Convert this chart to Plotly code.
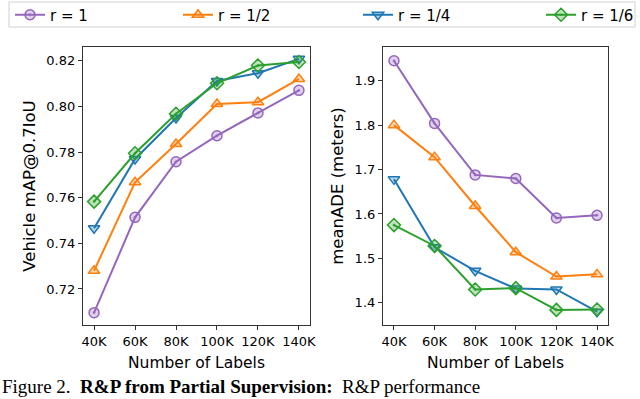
import plotly.graph_objects as go
from plotly.subplots import make_subplots

labels = [40, 60, 80, 100, 120, 140]
tick_text = ["40K", "60K", "80K", "100K", "120K", "140K"]
series_names = ["r = 1", "r = 1/2", "r = 1/4", "r = 1/6"]

map_r1 = [0.7096, 0.7514, 0.7758, 0.7872, 0.7972, 0.8071]
map_r2 = [0.7280, 0.7668, 0.7836, 0.8011, 0.8019, 0.8121]
map_r4 = [0.7466, 0.7770, 0.7950, 0.8112, 0.8146, 0.8209]
map_r6 = [0.7583, 0.7795, 0.7968, 0.8102, 0.8180, 0.8195]

ade_r1 = [1.945, 1.804, 1.688, 1.680, 1.591, 1.597]
ade_r2 = [1.800, 1.728, 1.618, 1.514, 1.459, 1.464]
ade_r4 = [1.678, 1.525, 1.472, 1.432, 1.430, 1.380]
ade_r6 = [1.575, 1.528, 1.430, 1.433, 1.384, 1.385]

colors = ["#9467bd", "#ff7f0e", "#1f77b4", "#2ca02c"]
fills = ["rgba(148,103,189,0.3)", "rgba(255,127,14,0.3)",
         "rgba(31,119,180,0.3)", "rgba(44,160,44,0.3)"]
symbols = ["circle-dot", "triangle-up", "triangle-down", "diamond-dot"]

fig = make_subplots(rows=1, cols=2)

for i, (m, a) in enumerate(zip([map_r1, map_r2, map_r4, map_r6],
                               [ade_r1, ade_r2, ade_r4, ade_r6])):
    leg = "legend" if i == 0 else f"legend{i + 1}"
    marker = dict(symbol=symbols[i], size=10, color=fills[i],
                  line=dict(color=colors[i], width=1.5))
    fig.add_trace(go.Scatter(x=labels, y=m, mode="lines+markers",
                             name=series_names[i], legend=leg,
                             line=dict(color=colors[i], width=2),
                             marker=marker), row=1, col=1)
    fig.add_trace(go.Scatter(x=labels, y=a, mode="lines+markers",
                             name=series_names[i], showlegend=False,
                             line=dict(color=colors[i], width=2),
                             marker=marker), row=1, col=2)

axis_style = dict(showgrid=False, zeroline=False, showline=True, mirror=True,
                  linecolor="#333", linewidth=1.2, ticks="outside", ticklen=4,
                  tickcolor="#333", tickfont=dict(size=13, color="black"))

fig.update_xaxes(**axis_style, tickvals=labels, ticktext=tick_text,
                 range=[34.6, 145.4],
                 title=dict(text="Number of Labels", font=dict(size=15.5), standoff=9))
fig.update_xaxes(domain=[83 / 640, 310 / 640], row=1, col=1)
fig.update_xaxes(domain=[383 / 640, 608 / 640], row=1, col=2)
fig.update_yaxes(**axis_style)
fig.update_yaxes(domain=[1 - 325 / 399, 1 - 47 / 399])
fig.update_yaxes(row=1, col=1, range=[0.7042, 0.8261], dtick=0.02,
                 tickformat=".2f",
                 title=dict(text="Vehicle mAP@0.7IoU", font=dict(size=16.5), standoff=6))
fig.update_yaxes(row=1, col=2, range=[1.350, 1.976], dtick=0.1,
                 tickformat=".1f",
                 title=dict(text="meanADE (meters)", font=dict(size=16.5), standoff=6))

leg_x = [10, 178, 358, 541]
legend_common = dict(orientation="h", y=1 - 15 / 399, yanchor="middle",
                     xanchor="left", bgcolor="rgba(0,0,0,0)", borderwidth=0,
                     font=dict(size=15, color="black"))
fig.update_layout(legend=dict(x=leg_x[0] / 640, **legend_common),
                  legend2=dict(x=leg_x[1] / 640, **legend_common),
                  legend3=dict(x=leg_x[2] / 640, **legend_common),
                  legend4=dict(x=leg_x[3] / 640, **legend_common))

fig.add_shape(type="rect", xref="paper", yref="paper",
              x0=9 / 640, x1=635 / 640, y0=1 - 27 / 399, y1=1 - 2 / 399,
              line=dict(color="#d0d0d0", width=1))

fig.add_annotation(text="Figure 2.  <b>R&amp;P from Partial Supervision:</b>  R&amp;P performance",
                   xref="paper", yref="paper", x=0, y=0,
                   xanchor="left", yanchor="bottom", showarrow=False,
                   font=dict(family="Liberation Serif", size=19, color="black"))

fig.update_layout(width=640, height=399,
                  margin=dict(l=0, r=0, t=0, b=0, pad=0, autoexpand=False),
                  plot_bgcolor="white", paper_bgcolor="white",
                  font=dict(family="DejaVu Sans", color="black"))

fig.write_html("out.html", config={"displayModeBar": False},
               post_script="document.body.style.margin = '0';")
